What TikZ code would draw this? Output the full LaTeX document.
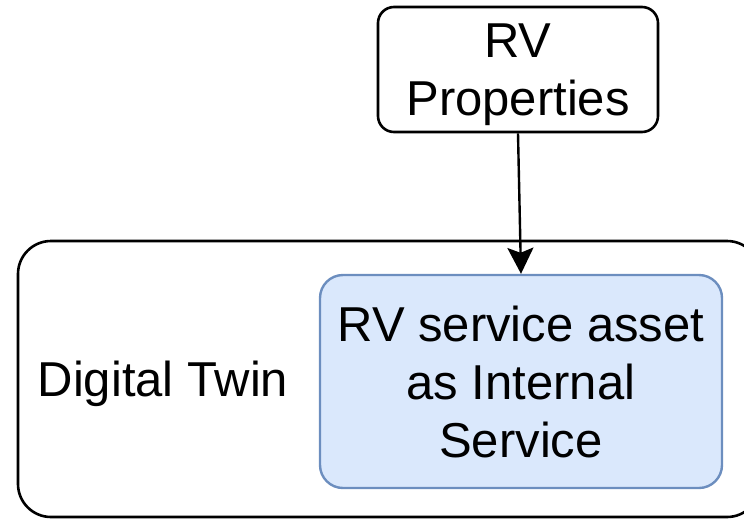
\documentclass[tikz,border=0pt]{standalone}
\usepackage{fontspec}
\setmainfont{Liberation Sans}
\usetikzlibrary{arrows.meta}
\definecolor{svcfill}{HTML}{DAE8FC}
\definecolor{svcline}{HTML}{6C8EBF}
\begin{document}
\begin{tikzpicture}[x=1pt,y=-1pt,
  bigtext/.style={font=\fontsize{49}{58}\selectfont},
  outerbox/.style={draw=black, line width=2.6pt, rounded corners=33pt, inner sep=0pt},
  svcbox/.style={draw=svcline, fill=svcfill, line width=2.4pt, rounded corners=23pt,
    align=center, inner sep=0pt, bigtext},
  propbox/.style={draw=black, fill=white, line width=2.6pt, rounded corners=16pt,
    align=center, inner sep=0pt, bigtext, text depth=0pt},
  flow/.style={draw=black, line width=2.4pt, -{Stealth[length=26pt, width=26pt, inset=5pt]}}
]
\useasboundingbox (0,0) rectangle (744,520);
\clip (0,0) rectangle (744,520);

% container for the digital twin (runs past the right edge)
\node[outerbox, minimum width=742pt, minimum height=276pt] (dt) at (389,379) {};
\node[bigtext, anchor=base] (dtlabel) at (163,396) {Digital Twin};

% internal service inside the twin
\node[svcbox, minimum width=402pt, minimum height=213pt] (svc) at (521,381.5)
  {RV service asset\\as Internal\\Service};

% properties feeding the service
\node[propbox, minimum width=280pt, minimum height=125pt] (rvp) at (518,69.5)
  {RV\\Properties};

\draw[flow] (rvp.south) -- (svc.north);
\end{tikzpicture}
\end{document}
